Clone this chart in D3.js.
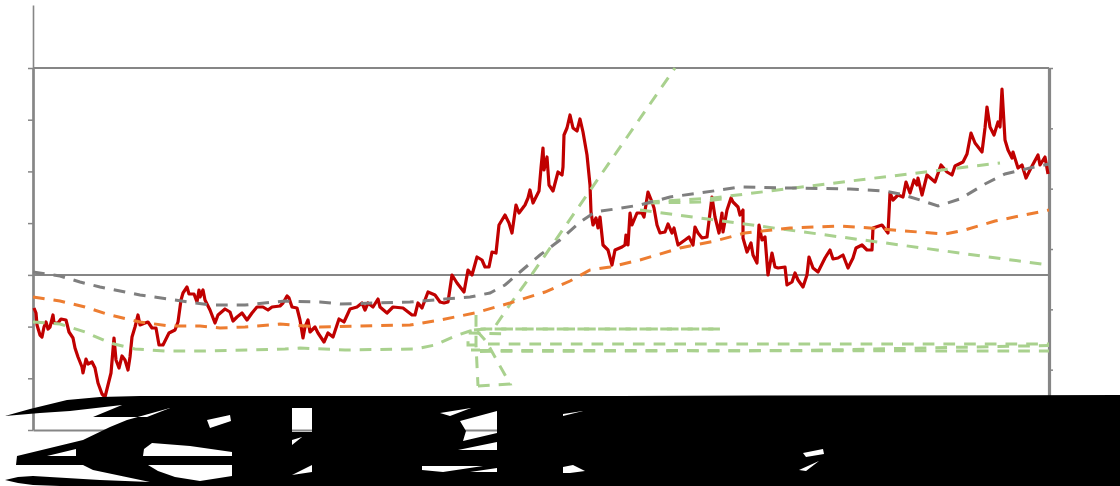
<!DOCTYPE html>
<html>
<head>
<meta charset="utf-8">
<script src="https://cdn.jsdelivr.net/npm/d3@7/dist/d3.min.js"></script>
<style>
  body { margin: 0; background: #fff; }
  svg { display: block; }
</style>
</head>
<body>
<svg id="chart" width="1120" height="486"></svg>
<script>
// values as [day, level]
const price = [[1,122],[3,117],[4,105],[7,95],[9,93],[11,103],[13,108],[15,101],[17,103],[20,115],[21,107],[25,107],[28,111],[33,110],[36,98],[40,92],[42,82],[45,73],[49,63],[50,57],[53,71],[55,66],[59,68],[62,62],[65,47],[69,36],[72,33],[75,45],[78,57],[81,92],[83,70],[86,62],[89,74],[92,70],[95,60],[97,73],[99,93],[102,103],[105,115],[107,105],[112,107],[115,108],[119,102],[123,102],[126,85],[130,85],[136,97],[142,100],[145,108],[148,130],[150,137],[154,143],[156,136],[161,136],[164,128],[166,140],
  [167,133],[170,140],[172,130],[177,120],[182,107],[185,115],[192,121],[197,118],[200,109],[204,113],[209,117],[214,110],[219,117],[224,123],[230,123],[235,120],[239,123],[247,124],[250,127],[254,134],[256,132],[259,123],[264,122],[267,110],[270,92],[272,103],[275,110],[277,98],[282,103],[285,97],[291,88],[295,97],[300,93],[306,111],[311,108],[317,121],[324,123],[329,127],[332,120],[335,127],
  [340,123],[345,131],[347,123],[354,117],[360,123],[370,122],[379,115],[382,115],[385,127],[389,122],[395,138],[402,135],[407,128],[411,127],[415,128],[419,155],[424,147],[431,138],[435,160],[439,155],[444,173],[449,170],[452,163],[456,163],[459,178],[463,177],[466,205],[472,215],[476,207],[479,197],[483,225],[486,217],[492,225],[495,232],
  [497,240],[500,227],[506,239],[508,262],[510,282],[511,260],[514,273],[516,245],[520,239],[525,258],[529,255],[530,263],[531,295],[534,302],[537,315],[540,302],[544,299],[547,311],[550,298],[554,275],[557,245],[558,218],[560,205],[563,212],[565,202],[567,213],[570,185],[575,180],[579,165],[582,180],[589,183],[592,185],[593,195],[595,185],[597,217],[599,205],[604,217],[609,217],[611,213],[615,238],[619,228],[621,222],[624,205],[627,197],[632,198],[635,206],[639,197],[641,202],[645,185],[652,190],[656,193],[660,185],[662,203],[665,197],
  [669,192],[674,193],[679,233],[682,213],[686,197],[689,217],[690,198],[694,220],[698,232],[700,228],[705,223],[707,215],[710,220],[710,192],[714,178],[718,187],[720,175],[724,167],[726,205],[729,190],[732,193],[735,155],[739,177],[742,163],[745,162],[752,163],[754,145],[759,148],[762,157],[765,150],[770,143],[774,155],[776,173],[780,162],[785,158],[792,172],[797,180],[800,171],[805,172],[810,175],[815,162],[820,172],[823,182],[829,185],[834,180],[839,180],[840,202],[849,205],[855,197],[857,237],
  [860,230],[865,235],[870,233],[873,248],[877,237],[881,250],[884,245],[885,252],[889,235],[894,255],[902,248],[908,265],[914,258],[919,255],[922,264],[930,268],[934,276],[938,297],[942,287],[949,278],[952,302],[954,323],[957,303],[961,295],[965,308],[967,303],[969,341],[972,290],[975,280],[979,272],[980,278],[985,262],[989,265],[993,252],[998,262],[1005,275],[1007,265],[1012,273],[1015,256]];

const grayAvg = [[0,158],[27,154],[47,148],[67,143],[107,135],[142,130],[177,125],[212,125],[252,129],[287,128],[307,126],[342,127],[377,128],[412,131],[437,133],[457,137],[472,145],[487,158],[507,175],[527,190],[547,208],[562,218],[582,221],[607,225],[637,233],[667,237],[707,243],[757,242],[817,241],[852,239],[867,236],[887,230],[905,224],[927,231],[952,246],[972,256],[997,262],[1016,266]];

const orangeAvg = [[0,133],[27,129],[52,123],[77,115],[107,108],[137,104],[167,104],[187,102],[212,103],[247,106],[287,103],[327,104],[377,105],[407,110],[442,117],[477,127],[512,138],[537,149],[557,160],[577,163],[607,170],[647,182],[682,189],[712,197],[757,202],[807,204],[837,202],[872,199],[912,196],[932,200],[962,209],[1016,220]];

// the green lines all share one colour
const greenLower = [[0,108],[27,106],[52,98],[77,87],[102,81],[132,79],[167,79],[217,80],[252,81],[267,82],[312,80],[382,81],[402,85],[422,94],[437,99],[447,101],[688,101]];
const greenLowerB = [[441,100],[452,101],[688,101]];
const greenBox = [[443,85],[435,85],[435,97],[477,96]];
const greenFlatA = [[455,86],[1016,86]];
const greenFlatB = [[447,79.6],[1016,79]];
const greenFlatC = [[447,78.6],[767,79.5],[1016,84.5]];
const greenStub = [[438,80],[447,80]];
const greenStem = [[443,115],[443,85],[445,44]];
const greenFoot = [[445,44],[477,46],[453,89],[443,100]];
const greenSteep = [[463,105],[478,127],[497,153],[642,362]];
const greenUp = [[615,228],[680,232],[834,251],[967,267]];
const greenUpB = [[615,227],[667,228],[689,231]];
const greenDown = [[607,220],[1016,165]];
const greenLines = [greenLower, greenLowerB, greenBox, greenFlatA, greenFlatB, greenFlatC, greenStub, greenStem, greenFoot, greenSteep, greenUp, greenUpB, greenDown];

const leftTicks = [0, 51.7, 103.4, 155.1, 206.9, 258.6, 310.3, 362];
const rightTicks = [0, 1, 2, 3, 4, 5, 6];
const gridLevels = [155.1, 362];

// black mass over the axis labels, same units as the data
const inkOutline = [[1087,35],[727,34.5],[587,34],[367,34],[107,34],[67,33],[34,30],[-3,21],[-28,14],[7,17],[37,19],[89,25],[60,13],[114,13],[137,22],[94,10],[77,3],[50,-10],[-16,-26],[-17,-35],[50,-35],[60,-40],[117,-52],[67,-50],[0,-46],[-15,-47],[-28,-50],[-15,-53],[0,-55],[27,-56],[1087,-56]];
const inkHoles = [
  [[174,10],[197,15],[198,9],[177,2]],
  [[14,-26],[43,-19],[43,-26]],
  [[110,-26],[111,-19],[119,-13],[157,-16],[199,-22],[199,-26]],
  [[115,-35],[199,-35],[199,-46],[167,-51],[142,-47],[125,-41]],
  [[259,22],[279,22],[279,-2],[259,-2]],
  [[259,-10],[269,-7],[259,-15]],
  [[259,-45],[279,-35],[279,-42]],
  [[407,17],[438,22],[417,14]],
  [[427,9],[464,19],[464,-3],[430,-11],[433,-1]],
  [[425,-20],[464,-12],[464,-20]],
  [[389,-36],[450,-36],[410,-42],[389,-40]],
  [[437,-42],[464,-38],[464,-42]],
  [[530,14],[550,19],[530,16]],
  [[530,-43],[530,-37],[540,-35],[552,-41],[537,-43]],
  [[770,-23],[790,-19],[791,-24],[773,-27]],
  [[766,-40],[786,-31],[773,-41]]
];

const axisColor = '#868686';
const svg = d3.select('#chart');

const x = d3.scaleLinear().domain([0, 1016]).range([33, 1049]);
const y = d3.scaleLinear().domain([0, 425]).range([430, 5]);
const yRight = d3.scaleLinear().domain([0, 6]).range([430, 68]);

// gridlines
svg.append('g').selectAll('line')
  .data(gridLevels)
  .join('line')
    .attr('x1', x(0))
    .attr('x2', x(1016))
    .attr('y1', d => y(d))
    .attr('y2', d => y(d))
    .attr('stroke', axisColor)
    .attr('stroke-width', 2);

// axes, the labels are lost under the black mass
const gx = svg.append('g')
  .attr('transform', 'translate(0,' + y(0) + ')')
  .call(d3.axisBottom(x).tickValues([]).tickSizeOuter(0));
const gl = svg.append('g')
  .attr('transform', 'translate(' + x(0) + ',0)')
  .call(d3.axisLeft(y).tickValues(leftTicks).tickSize(5).tickSizeOuter(0).tickFormat(''));
const gr = svg.append('g')
  .attr('transform', 'translate(' + x(1016) + ',0)')
  .call(d3.axisRight(yRight).tickValues(rightTicks).tickSize(4).tickSizeOuter(0).tickFormat(''));

gx.select('.domain').attr('stroke', axisColor).attr('stroke-width', 2);
gl.select('.domain').attr('stroke', axisColor).attr('stroke-width', 1.6);
gr.select('.domain').attr('stroke', axisColor).attr('stroke-width', 3.2);
svg.selectAll('.tick line').attr('stroke', axisColor).attr('stroke-width', 1.5);

// lower part of the left axis is heavier
svg.append('line')
  .attr('x1', x(0) + 0.5)
  .attr('x2', x(0) + 0.5)
  .attr('y1', y(0))
  .attr('y2', y(362))
  .attr('stroke', axisColor)
  .attr('stroke-width', 2.6);

const line = d3.line().x(d => x(d[0])).y(d => y(d[1]));

svg.append('path')
  .attr('d', line(price))
  .attr('fill', 'none')
  .attr('stroke', '#c00000')
  .attr('stroke-width', 3.2)
  .attr('stroke-linejoin', 'round');

svg.append('g').selectAll('path')
  .data(greenLines)
  .join('path')
    .attr('d', line)
    .attr('fill', 'none')
    .attr('stroke', '#a9d18e')
    .attr('stroke-width', 3)
    .attr('stroke-dasharray', '11.7 9');

svg.append('path')
  .attr('d', line(orangeAvg))
  .attr('fill', 'none')
  .attr('stroke', '#ed7d31')
  .attr('stroke-width', 3)
  .attr('stroke-dasharray', '11.7 9');

svg.append('path')
  .attr('d', line(grayAvg))
  .attr('fill', 'none')
  .attr('stroke', '#7f7f7f')
  .attr('stroke-width', 3)
  .attr('stroke-dasharray', '11.7 9');

// black mass with its white gaps
const ring = d3.line().x(d => x(d[0])).y(d => y(d[1])).curve(d3.curveLinearClosed);
svg.append('path')
  .attr('d', [inkOutline].concat(inkHoles).map(ring).join(' '))
  .attr('fill', '#000')
  .attr('fill-rule', 'evenodd');
</script>
</body>
</html>
